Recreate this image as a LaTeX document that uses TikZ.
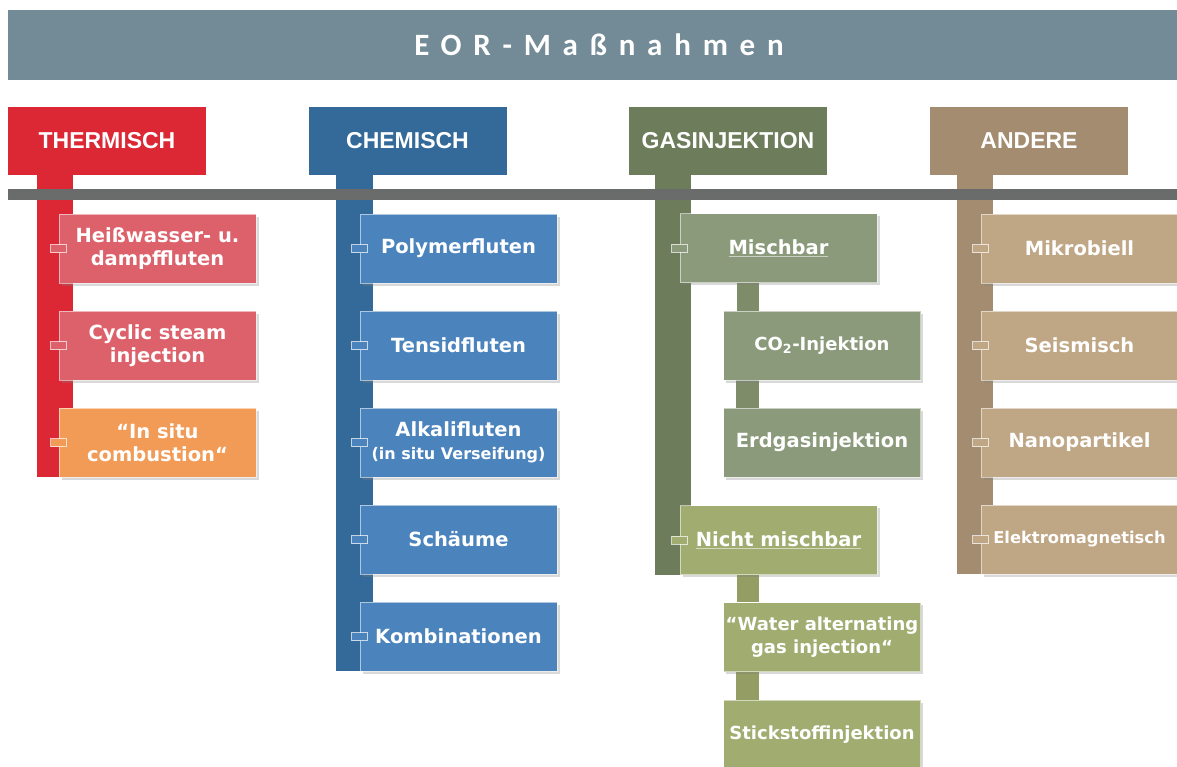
\documentclass[tikz,border=0pt]{standalone}
\usepackage{fontspec}
\setmainfont{DejaVu Sans}
\newfontfamily\headfont{Liberation Sans}
\newfontfamily\titlefont[LetterSpace=38]{Carlito}
\usetikzlibrary{shadows, backgrounds}
\definecolor{titlecolor} {RGB}{115, 139, 150}
\definecolor{spinecolor} {RGB}{105, 108, 107}
\definecolor{thermcolor} {RGB}{220,  40,  52}
\definecolor{thermitem}  {RGB}{221,  97, 107}
\definecolor{thermorange}{RGB}{242, 155,  87}
\definecolor{chemcolor}  {RGB}{ 51, 106, 153}
\definecolor{chemitem}   {RGB}{ 75, 131, 189}
\definecolor{gascolor}   {RGB}{109, 125,  91}
\definecolor{gasitem}    {RGB}{139, 154, 122}
\definecolor{gaslink}    {RGB}{126, 140, 106}
\definecolor{nichtitem}  {RGB}{160, 172, 112}
\definecolor{nichtlink}  {RGB}{148, 158, 100}
\definecolor{othercolor} {RGB}{163, 140, 112}
\definecolor{otheritem}  {RGB}{191, 166, 133}
\tikzset{
	titlebar/.style={
		rectangle, fill=titlecolor,
		minimum width=1182pt, minimum height=70pt,
		text=white, font=\titlefont\fontsize{31}{33}\selectfont\bfseries
	},
	headblock/.style={
		rectangle, minimum width=198pt, minimum height=68pt,
		text=white, font=\headfont\fontsize{23}{26}\selectfont\bfseries
	},
	itemblock/.style={
		rectangle, minimum width=197pt, minimum height=69pt,
		align=center, inner sep=2pt, text=white,
		font=\fontsize{19.5}{23.5}\selectfont\bfseries,
		draw=white, draw opacity=0.55, line width=0.8pt,
		drop shadow={opacity=0.3, shadow xshift=2.5pt, shadow yshift=-2.5pt}
	},
	smalltext/.style={font=\fontsize{18}{23}\selectfont\bfseries},
	spinebar/.style={
		rectangle, fill=spinecolor, inner sep=0pt,
		minimum width=1182pt, minimum height=11pt
	},
	tab/.style={
		rectangle, inner sep=0pt, minimum width=16pt, minimum height=8pt,
		draw=white, draw opacity=0.7, line width=0.6pt
	}
}
\begin{document}
\begin{tikzpicture}[x=1pt, y=-1pt]
		\useasboundingbox (0,0) rectangle (1177,766);
		
		%% ═══════════════════════════════
		%%  TITLE + CATEGORIES
		%% ═══════════════════════════════
		\node[titlebar] (title) at (599,45) {EOR-Maßnahmen};
		
		\node[headblock, fill=thermcolor] (therm) at (107,141)   {THERMISCH};
		\node[headblock, fill=chemcolor]  (chem)  at (407.5,141) {CHEMISCH};
		\node[headblock, fill=gascolor]   (gas)   at (728,141)   {GASINJEKTION};
		\node[headblock, fill=othercolor] (other) at (1029,141)  {ANDERE};
		
		\node[spinebar] (spine) at (599,194.5) {};
		
		%% ═══════════════════════════════
		%%  THERMISCH
		%% ═══════════════════════════════
		\node[itemblock, fill=thermitem]   (t1) at (157.5,248.5) {Heißwasser- u.\\dampffluten};
		\node[itemblock, fill=thermitem]   (t2) at (157.5,345.5) {Cyclic steam\\injection};
		\node[itemblock, fill=thermorange] (t3) at (157.5,442.5) {“In situ\\combustion“};
		
		%% ═══════════════════════════════
		%%  CHEMISCH
		%% ═══════════════════════════════
		\node[itemblock, fill=chemitem] (c1) at (458.5,248.5) {Polymerfluten};
		\node[itemblock, fill=chemitem] (c2) at (458.5,345.5) {Tensidfluten};
		\node[itemblock, fill=chemitem] (c3) at (458.5,442.5)
		{Alkalifluten\\{\fontsize{16}{18}\selectfont (in situ Verseifung)}};
		\node[itemblock, fill=chemitem] (c4) at (458.5,539.5) {Schäume};
		\node[itemblock, fill=chemitem] (c5) at (458.5,636.5) {Kombinationen};
		
		%% ═══════════════════════════════
		%%  GASINJEKTION
		%% ═══════════════════════════════
		\node[itemblock, fill=gasitem]   (misch)  at (778.5,248)   {\underline{Mischbar}};
		\node[itemblock, smalltext, fill=gasitem]   (co2)    at (822,345.5) {CO\textsubscript{2}-Injektion};
		\node[itemblock, fill=gasitem]   (erdgas) at (822,442.5)   {Erdgasinjektion};
		\node[itemblock, fill=nichtitem] (nicht)  at (778.5,540)   {\underline{Nicht mischbar}};
		\node[itemblock, smalltext, fill=nichtitem] (wag)    at (822,637)   {“Water alternating\\gas injection“};
		\node[itemblock, smalltext, fill=nichtitem] (stick)  at (822,734.5) {Stickstoffinjektion};
		
		%% ═══════════════════════════════
		%%  ANDERE
		%% ═══════════════════════════════
		\node[itemblock, fill=otheritem] (a1) at (1079.5,248.5) {Mikrobiell};
		\node[itemblock, fill=otheritem] (a2) at (1079.5,345.5) {Seismisch};
		\node[itemblock, fill=otheritem] (a3) at (1079.5,442.5) {Nanopartikel};
		\node[itemblock, fill=otheritem] (a4) at (1079.5,539.5)
		{\fontsize{16.3}{18}\selectfont Elektromagnetisch};
		
		% small tabs on the item edges
		\foreach \n/\c in {t1/thermitem, t2/thermitem, t3/thermorange,
			c1/chemitem, c2/chemitem, c3/chemitem, c4/chemitem, c5/chemitem,
			misch/gasitem, nicht/nichtitem,
			a1/otheritem, a2/otheritem, a3/otheritem, a4/otheritem}
		\node[tab, fill=\c] (tab-\n) at (\n.west) {};
		
		%% ═══════════════════════════════
		%%  BARS
		%% ═══════════════════════════════
		\begin{scope}[on background layer]
			\fill[thermcolor] ([xshift=29pt]therm.south west) rectangle ([xshift=14pt]t3.south west);
			\fill[chemcolor]  ([xshift=28pt]chem.south west)  rectangle ([xshift=13pt]c5.south west);
			\fill[gascolor]   ([xshift=26pt]gas.south west)   rectangle ([xshift=11pt]nicht.south west);
			\fill[othercolor] ([xshift=27pt]other.south west) rectangle ([xshift=12pt]a4.south west);
			
			% Mischbar / Nicht mischbar -> sub items
			\fill[gaslink]   ([xshift=57pt]misch.south west) rectangle ([xshift=36pt]co2.north west);
			\fill[gaslink]   ([xshift=13pt]co2.south west)   rectangle ([xshift=36pt]erdgas.north west);
			\fill[nichtlink] ([xshift=57pt]nicht.south west) rectangle ([xshift=36pt]wag.north west);
			\fill[nichtlink] ([xshift=13pt]wag.south west)   rectangle ([xshift=36pt]stick.north west);
		\end{scope}
	\end{tikzpicture}
\end{document}
